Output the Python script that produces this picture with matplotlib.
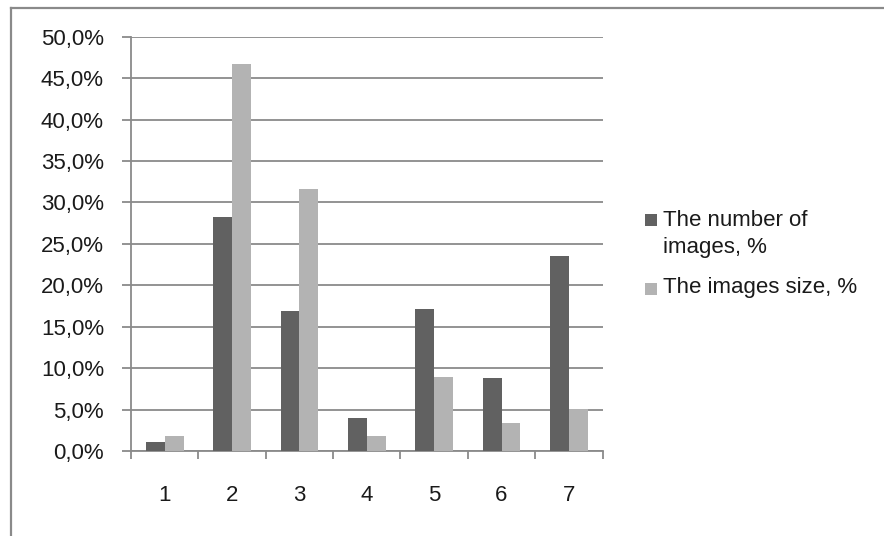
import matplotlib
matplotlib.use("Agg")
import matplotlib.pyplot as plt
from matplotlib.patches import Rectangle
from matplotlib.lines import Line2D
import numpy as np

plt.rcParams['font.family'] = ['Liberation Sans', 'DejaVu Sans']

categories = ["1", "2", "3", "4", "5", "6", "7"]
number_of_images = [1.1, 28.3, 16.9, 4.0, 17.1, 8.8, 23.5]
images_size = [1.9, 46.7, 31.6, 1.9, 9.0, 3.4, 5.1]
series_labels = ["The number of\nimages, %", "The images size, %"]
y_ticks = [0, 5, 10, 15, 20, 25, 30, 35, 40, 45, 50]

DARK = "#616161"
LIGHT = "#b3b3b3"
GRID = "#8a8a8a"

W, H = 884, 536
fig = plt.figure(figsize=(W / 100, H / 100), dpi=100)

def fx(px):
    return px / W

def fy(py):
    return 1 - py / H

ax = fig.add_axes([fx(131), fy(451.3), fx(602.6) - fx(131), fy(36.6) - fy(451.3)])

x = np.arange(1, len(categories) + 1)
bw = 0.28
ax.bar(x - bw / 2, number_of_images, width=bw, color=DARK, zorder=3)
ax.bar(x + bw / 2, images_size, width=bw, color=LIGHT, zorder=3)

ax.set_xlim(0.5, len(categories) + 0.5)
ax.set_ylim(0, 50)

ax.set_yticks(y_ticks)
ax.set_yticklabels([f"{v:.1f}%".replace(".", ",") for v in y_ticks])
ax.yaxis.grid(True, color=GRID, linewidth=1.3, zorder=0)
ax.set_axisbelow(True)

ax.set_xticks(x)
ax.set_xticklabels(categories)
ax.set_xticks(np.arange(0.5, len(categories) + 1.0, 1.0), minor=True)

ax.tick_params(axis='y', which='major', length=6.5, width=1.3, color=GRID,
               pad=13, labelsize=16, labelcolor="#1a1a1a")
ax.tick_params(axis='x', which='major', length=0, pad=24, labelsize=16,
               labelcolor="#1a1a1a")
ax.tick_params(axis='x', which='minor', length=6, width=1.3, color=GRID)

for side in ["top", "right"]:
    ax.spines[side].set_visible(False)
for side in ["left", "bottom"]:
    ax.spines[side].set_color(GRID)
    ax.spines[side].set_linewidth(1.3)

# legend drawn as squares and text to the right of the plot
sq = 12
fig.add_artist(Rectangle((fx(645), fy(214 + sq)), fx(sq), sq / H,
                         facecolor=DARK, edgecolor="none"))
fig.add_artist(Rectangle((fx(645), fy(283 + sq)), fx(sq), sq / H,
                         facecolor=LIGHT, edgecolor="none"))
first_lines = series_labels[0].split("\n")
fig.text(fx(663), fy(220), first_lines[0], fontsize=16, va="center", ha="left", color="#1a1a1a")
fig.text(fx(663), fy(247), first_lines[1], fontsize=16, va="center", ha="left", color="#1a1a1a")
fig.text(fx(663), fy(288), series_labels[1], fontsize=16, va="center", ha="left", color="#1a1a1a")

# chart frame
frame_kw = dict(color="#8a8a8a", linewidth=1.6)
fig.add_artist(Line2D([fx(11), fx(11)], [fy(8), 0], **frame_kw))
fig.add_artist(Line2D([fx(11), 1], [fy(8), fy(8)], **frame_kw))

fig.savefig("out.png", dpi=100)
